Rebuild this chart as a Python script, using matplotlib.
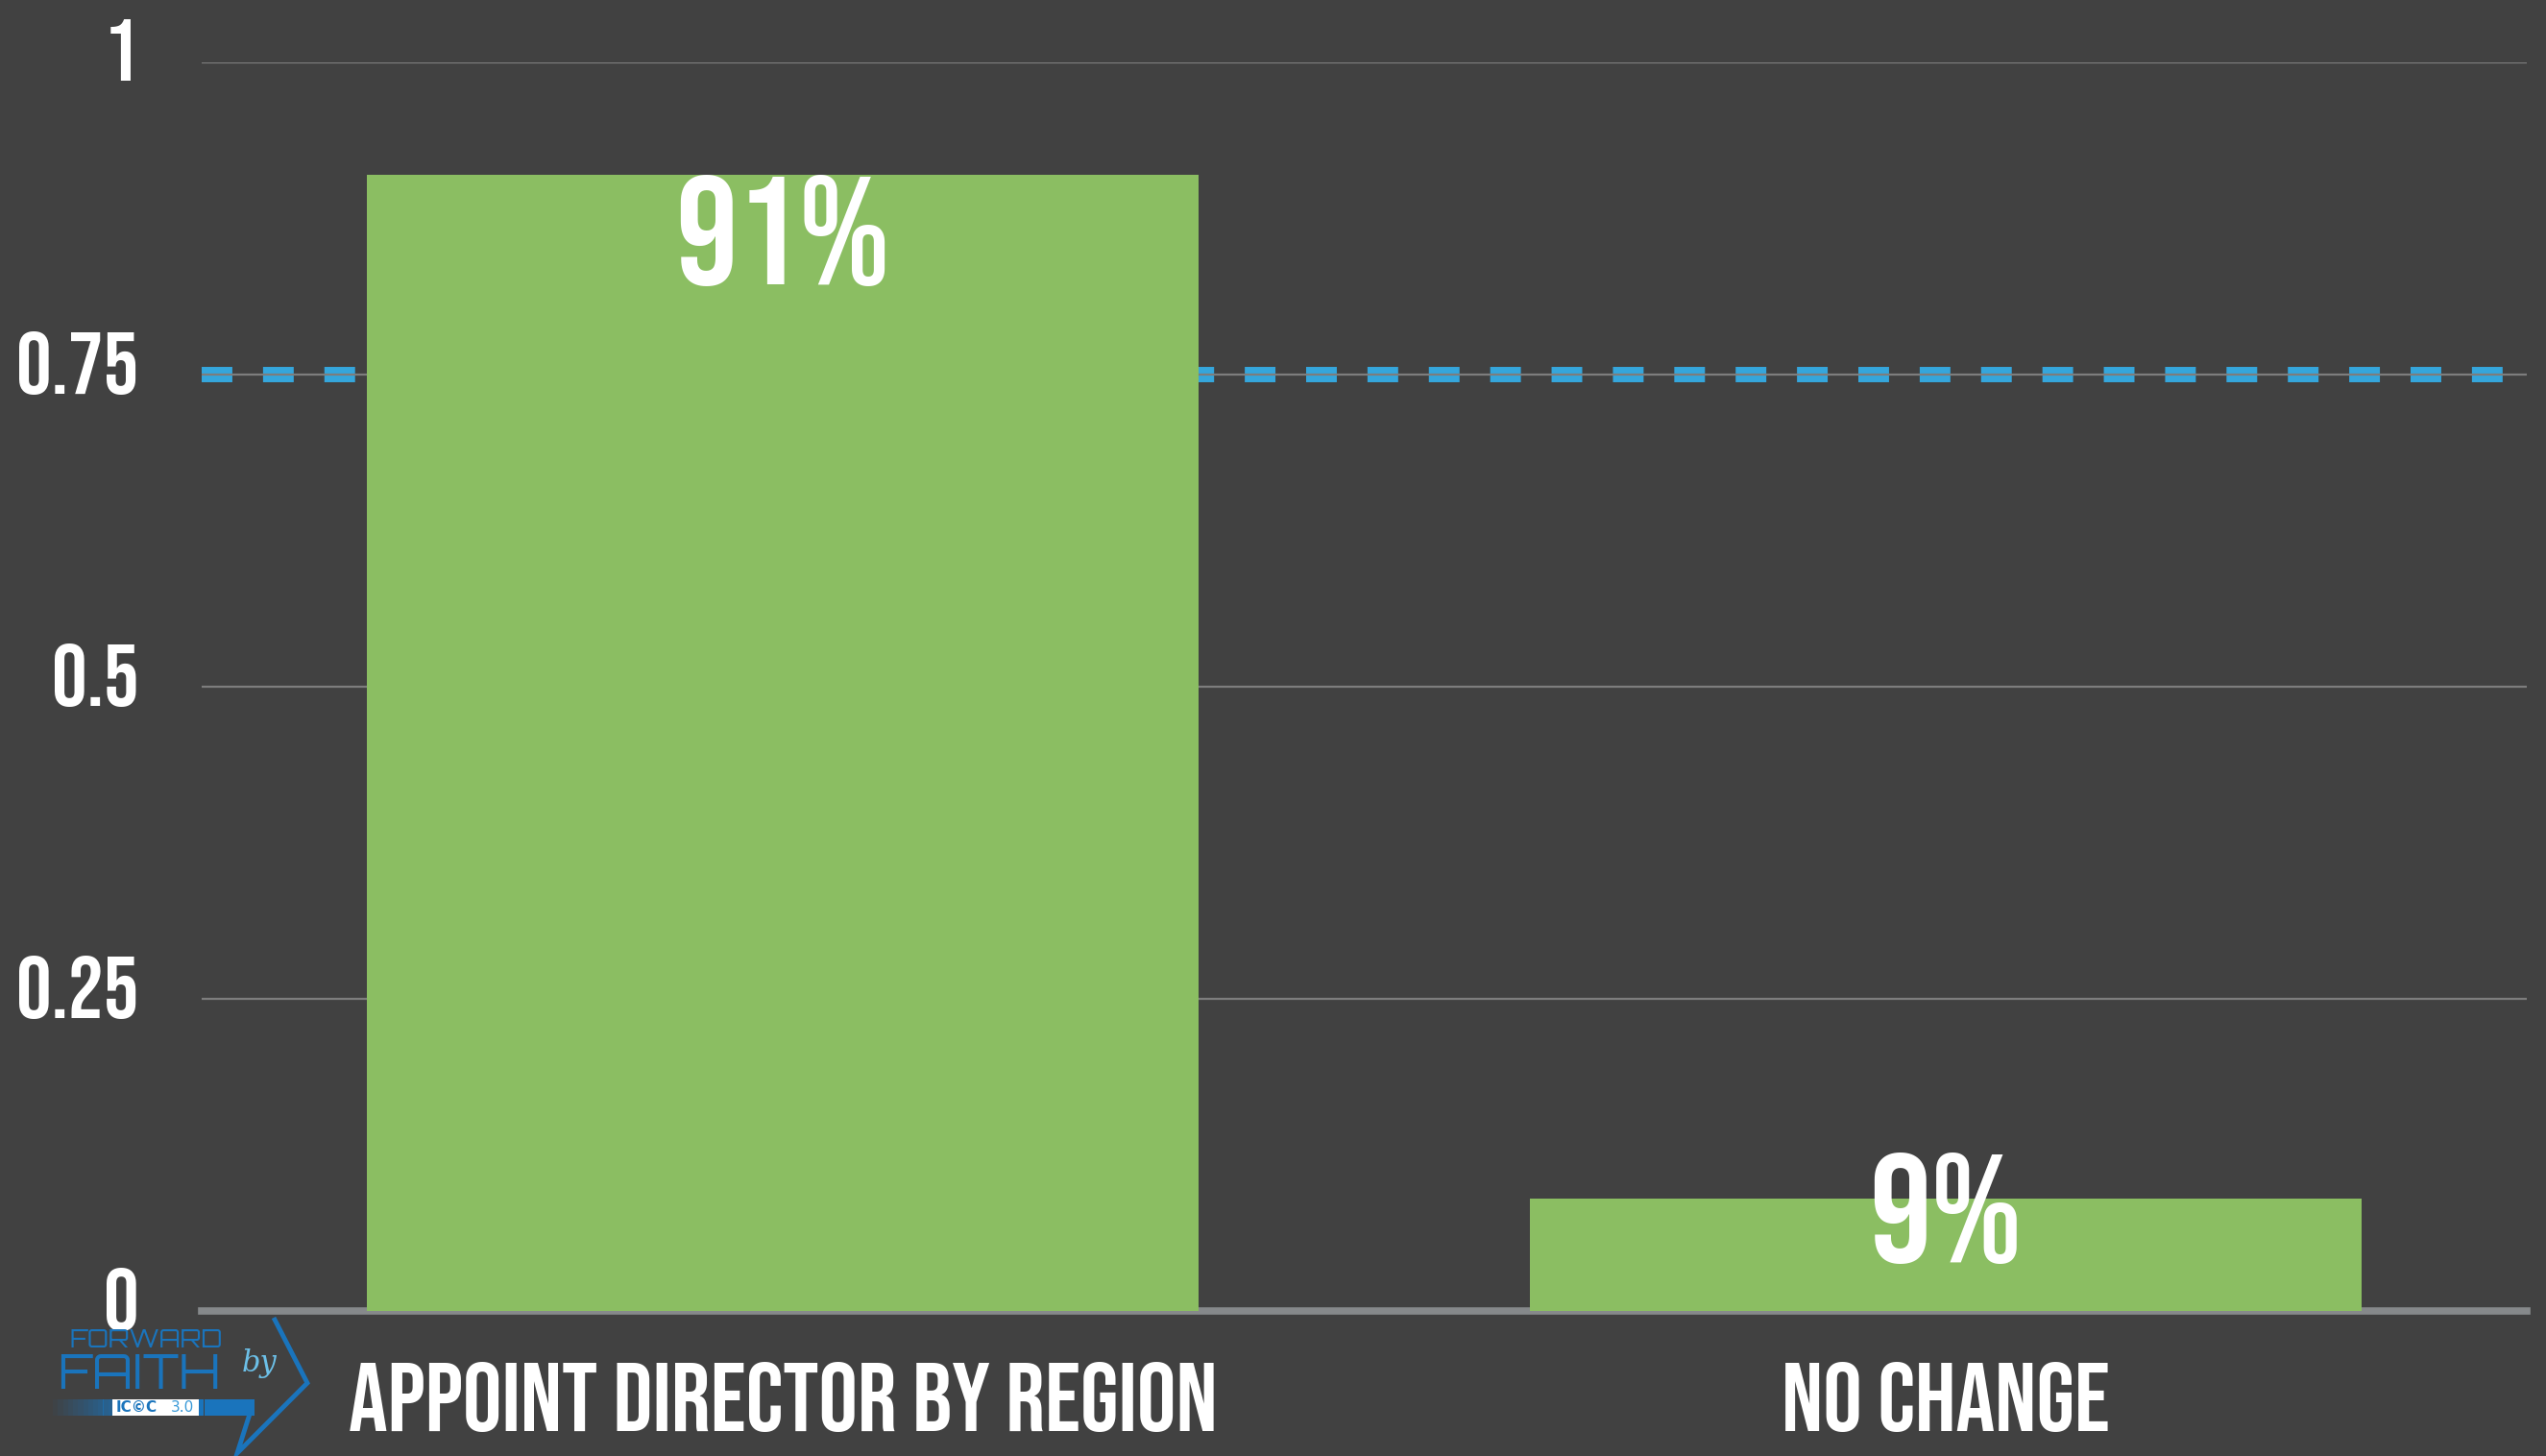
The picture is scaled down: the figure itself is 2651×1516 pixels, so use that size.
import matplotlib
matplotlib.use("Agg")
import matplotlib.pyplot as plt
import numpy as np
from matplotlib.patches import Rectangle, Polygon
from matplotlib.transforms import offset_copy

# Data
categories = ["APPOINT DIRECTOR BY REGION", "NO CHANGE"]
values = [0.91, 0.09]
value_labels = ["91%", "9%"]
target = 0.75
yticks = [0, 0.25, 0.5, 0.75, 1]
ytick_labels = ["0", "0.25", "0.5", "0.75", "1"]

bg = "#414141"
green = "#8BBE62"
blue = "#35A6DC"
logo_blue = "#1a74bc"
font = ["Bebas Neue", "Oswald", "DejaVu Sans"]

fig = plt.figure(figsize=(26.51, 15.16), dpi=100, facecolor=bg)
ax = fig.add_axes([0.0792, 0.0996, 0.9133, 0.8575], facecolor=bg)

x = np.arange(len(categories))

# Gridlines (drawn over the dashed target line)
for t in yticks[1:]:
    ax.axhline(t, color="#7d7d7d", lw=1.6, zorder=2)

# Target dashed line
ax.axhline(target, color=blue, lw=11.5, dashes=(2.0, 2.0),
           solid_capstyle="butt", dash_capstyle="butt", zorder=1)

# Baseline
ax.axhline(0, color="#86898b", lw=5.5, zorder=2, clip_on=False)

bars = ax.bar(x, values, width=0.715, color=green, zorder=3)

# Value labels
for xi, v, lab in zip(x, values, value_labels):
    ax.text(xi, max(v, 0.127), lab, ha="center", va="top", color="white",
            fontsize=116, family=font, zorder=4)

ax.set_xlim(-0.5, 1.5)
ax.set_ylim(0, 1)
ax.set_yticks(yticks)
ax.set_yticklabels(ytick_labels)
ax.set_xticks(x)
ax.set_xticklabels(categories)
for s in ax.spines.values():
    s.set_visible(False)
ax.tick_params(axis="y", length=0, pad=47, labelcolor="white", labelsize=66)
ax.tick_params(axis="x", length=0, pad=38, labelcolor="white", labelsize=73)
for lbl in ax.get_yticklabels() + ax.get_xticklabels():
    lbl.set_family(font)
for lbl in ax.get_yticklabels():
    lbl.set_transform(offset_copy(lbl.get_transform(), fig=fig, x=0, y=13, units="dots"))

# Logo (bottom-left corner), figure pixel coordinates
W, H = 2651, 1516
def fx(px):
    return px / W
def fy(py):
    return 1 - py / H

# gradient bar
n = 40
for i in range(n):
    x0 = 55 + i * (210 / n)
    fig.patches.append(Rectangle((fx(x0), fy(1474)), 210 / n / W, 17 / H,
                                 transform=fig.transFigure, color=logo_blue,
                                 alpha=min(1, (i + 1) / (n * 0.45)), lw=0))
fig.patches.append(Rectangle((fx(117), fy(1474)), 90 / W, 17 / H,
                             transform=fig.transFigure, color="white", lw=0))
arrow = Polygon([(fx(285), fy(1372)), (fx(320), fy(1440)), (fx(247), fy(1513)),
                 (fx(262), fy(1466))], closed=False, fill=False,
                edgecolor=logo_blue, lw=3.5, transform=fig.transFigure)
fig.patches.append(arrow)
fig.text(fx(72), fy(1403), "FORWARD", color=logo_blue, fontsize=19,
         family=["Orbitron", "DejaVu Sans"])
fig.text(fx(60), fy(1446), "FAITH", color=logo_blue, fontsize=36,
         family=["Orbitron", "DejaVu Sans"])
fig.text(fx(252), fy(1428), "by", color="#6cc0e8", fontsize=22,
         family="DejaVu Serif", style="italic")
fig.text(fx(121), fy(1470), "IC\u00a9C", color=logo_blue, fontsize=11,
         family="DejaVu Sans", fontweight="bold")
fig.text(fx(178), fy(1470), "3.0", color="#3a9ad8", fontsize=11,
         family="DejaVu Sans")

fig.savefig("out.png", dpi=100, facecolor=bg)
